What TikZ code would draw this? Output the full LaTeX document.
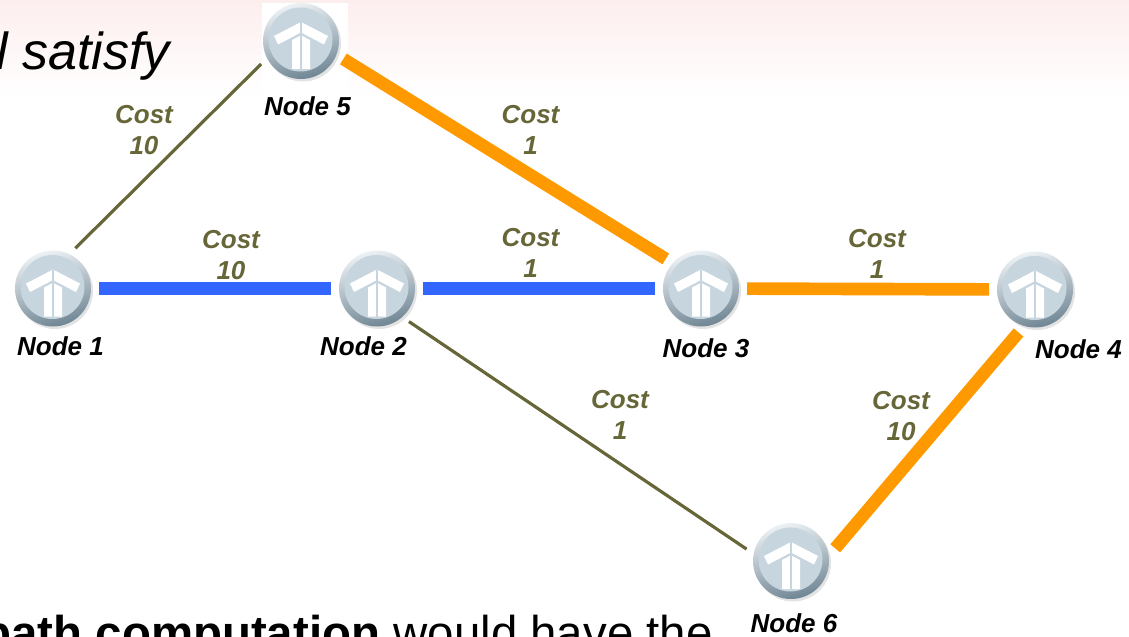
\documentclass[tikz,border=0pt]{standalone}
\usepackage{fontspec}
\setmainfont{Liberation Sans}
\usetikzlibrary{calc,positioning,shadows}

\definecolor{pathblue}{RGB}{51,102,255}
\definecolor{pathorange}{RGB}{255,153,0}
\definecolor{costolive}{RGB}{102,102,56}
\definecolor{rimlight}{RGB}{236,241,244}
\definecolor{rimdark}{RGB}{112,134,148}
\definecolor{routerface}{RGB}{199,213,222}
\definecolor{slidepink}{RGB}{253,238,238}

\tikzstyle{router} = [circle, minimum size=1.52cm, inner sep=0pt, outer sep=0.16cm,
  top color=rimlight, bottom color=rimdark, shading angle=15,
  drop shadow={opacity=0.22, shadow xshift=0.04cm, shadow yshift=-0.05cm},
  path picture={
    \begin{scope}[shift={(path picture bounding box.center)}]
      \fill[routerface] (-0.01,0.03) circle (0.64cm);
      % arms
      \fill[white] (-0.54,0.10) -- (0,0.38) -- (0.54,0.10) -- (0.46,-0.07) -- (0,0.17) -- (-0.46,-0.07) -- cycle;
      % stem
      \fill[white] (-0.18,0.02) -- (0,0.115) -- (0.18,0.02) -- (0.18,-0.56) -- (-0.18,-0.56) -- cycle;
      \draw[routerface, line width=0.8pt] (0,0.38) -- (0,-0.56);
    \end{scope}
  }]
\tikzstyle{lbl} = [font=\fontsize{14.8}{17}\selectfont\bfseries\itshape, inner sep=0pt]
\tikzstyle{cost} = [font=\fontsize{14.8}{17.6}\selectfont\bfseries\itshape, text=costolive, align=center, inner sep=0pt]
\tikzstyle{thinlink} = [draw=costolive, line width=1.8pt]
\tikzstyle{bluelink} = [draw=pathblue, line width=7.2pt]
\tikzstyle{orangelink} = [draw=pathorange, line width=7.2pt]

\begin{document}
\begin{tikzpicture}
    \useasboundingbox (0,0) rectangle (22.58,12.72);

    % slide background
    \shade[top color=slidepink, bottom color=white] (0,12.72) rectangle (22.58,10.8);
    \fill[white] (5.24,12.66) rectangle (6.96,10.8);
    \node[anchor=base west, inner sep=0pt, font=\fontsize{29.6}{34}\selectfont\itshape] (title) at (-0.08,11.32) {l satisfy};
    \node[anchor=base west, inner sep=0pt, font=\fontsize{27}{32}\selectfont] (bottomtext) at (-0.36,-0.26) {\textbf{path computation} would have the};

    % routers
    \node[router] (n1) at (1.06,6.95) {};
    \node[router] (n2) at (7.54,6.95) {};
    \node[router] (n3) at (14.02,6.95) {};
    \node[router] (n4) at (20.70,6.93) {};
    \node[router] (n5) at (6.02,11.90) {};
    \node[router] (n6) at (15.82,1.50) {};

    \node[lbl] (l1) at ($(n1)+(0.15,-1.15)$) {Node 1};
    \node[lbl] (l2) at ($(n2)+(-0.27,-1.16)$) {Node 2};
    \node[lbl] (l3) at ($(n3)+(0.10,-1.20)$) {Node 3};
    \node[lbl] (l4) at ($(n4)+(0.87,-1.20)$) {Node 4};
    \node[lbl] (l5) at ($(n5)+(0.13,-1.30)$) {Node 5};
    \node[lbl] (l6) at ($(n6)+(0.06,-1.24)$) {Node 6};

    % links
    \draw[thinlink] (n1.61) -- (n5.210);
    \draw[bluelink] (n1) -- (n2);
    \draw[bluelink] (n2) -- (n3);
    \draw[orangelink] (n5.337) -- (n3.140);
    \draw[orangelink] (n3) -- (n4);
    \draw[thinlink] (n2.314) -- (n6.165);
    \draw[orangelink] (n6.16) -- (n4.249);

    % costs
    \node[cost] (c15) at (2.88,10.12) {Cost\\10};
    \node[cost] (c12) at (4.62,7.62) {Cost\\10};
    \node[cost] (c53) at (10.61,10.12) {Cost\\1};
    \node[cost] (c23) at (10.61,7.66) {Cost\\1};
    \node[cost] (c34) at (17.54,7.64) {Cost\\1};
    \node[cost] (c26) at (12.40,4.42) {Cost\\1};
    \node[cost] (c64) at (18.02,4.39) {Cost\\10};
\end{tikzpicture}
\end{document}
